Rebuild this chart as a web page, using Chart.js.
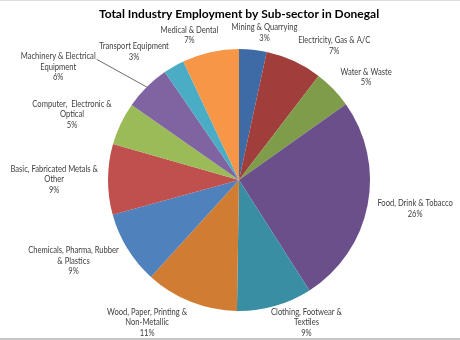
<!DOCTYPE html>
<html>
<head>
<meta charset="utf-8">
<script src="https://cdn.jsdelivr.net/npm/chart.js@4"></script>
<style>
  html, body { margin: 0; padding: 0; background: #fff; }
  #wrap { width: 460px; height: 340px; }
</style>
</head>
<body>
<div id="wrap"><canvas id="chart" width="460" height="340"></canvas></div>
<script>
const chartTitle = "Total Industry Employment by Sub-sector in Donegal";

// sub-sectors, clockwise from 12 o'clock (multi-line labels as in the original)
const categories = [
  ["Mining & Quarrying"],
  ["Electricity, Gas & A/C"],
  ["Water & Waste"],
  ["Food, Drink & Tobacco"],
  ["Clothing, Footwear &", "Textiles"],
  ["Wood, Paper, Printing &", "Non-Metallic"],
  ["Chemicals, Pharma, Rubber", "& Plastics"],
  ["Basic, Fabricated Metals &", "Other"],
  ["Computer,  Electronic &", "Optical"],
  ["Machinery & Electrical", "Equipment"],
  ["Transport Equipment"],
  ["Medical & Dental"]
];

// share of employment (%)
const shares = [3.4, 7.0, 4.8, 25.8, 9.3, 11.5, 9.0, 8.7, 5.3, 5.7, 2.6, 7.0];

const sliceColors = [
  "#3e6ba5", "#a03e3c", "#7e9c49", "#6a4f8b", "#3a8ea3", "#d07d33",
  "#4f81bd", "#c0504d", "#9bbb59", "#8064a2", "#4bacc6", "#f79646"
];

const labelFont = "9.5px Lato";
const squeeze = 0.8;   // Lato drawn narrower to stand in for Calibri
const lineH = 10.5;
// the one label Excel pulled away from its slice (drawn with a leader line)
const movedLabels = { 9: { dx: -44, dy: -4 } };

// outside-end data labels, roughly the way Excel places them
const labelPlugin = {
  id: "pieLabels",
  afterDraw(chart) {
    const ctx = chart.ctx;
    const W = chart.width, H = chart.height;
    ctx.save();

    // frame lines of the original picture
    ctx.fillStyle = "#dcdcdc";
    ctx.fillRect(0, 0, W, 1);
    ctx.fillStyle = "#c6c6c6";
    ctx.fillRect(0, H - 2, W, 2);

    // title
    ctx.fillStyle = "#000";
    ctx.font = "bold 12px Lato";
    ctx.textAlign = "center";
    ctx.textBaseline = "middle";
    ctx.fillText(chartTitle, 239, 14);

    const meta = chart.getDatasetMeta(0);
    const total = shares.reduce((a, b) => a + b, 0);
    ctx.font = labelFont;
    meta.data.forEach((arc, i) => {
      const mid = (arc.startAngle + arc.endAngle) / 2;
      const cos = Math.cos(mid), sin = Math.sin(mid);
      const lines = categories[i].concat([Math.round(shares[i] / total * 100) + "%"]);
      const w = Math.max(...lines.map(l => ctx.measureText(l).width)) * squeeze;
      const h = lines.length * lineH;
      const px = arc.x + (arc.outerRadius + 10) * cos;
      const py = arc.y + (arc.outerRadius + 7) * sin;
      let cx = px + (w / 2) * Math.max(-1, Math.min(1, cos * 3));
      let cy = py + (h / 2) * sin;
      cy = Math.max(h / 2 + 2, Math.min(H - 2 - h / 2, cy));
      cx = Math.max(w / 2 + 3, Math.min(W - 3 - w / 2, cx));

      const mv = movedLabels[i];
      if (mv) {
        cx += mv.dx; cy += mv.dy;
        const firstW = ctx.measureText(lines[0]).width * squeeze;
        const sx = mv.dx < 0 ? cx + firstW / 2 + 1 : cx - firstW / 2 - 1;
        const sy = cy - h / 2 + lineH / 2 + 3;
        const ex = arc.x + arc.outerRadius * cos;
        const ey = arc.y + arc.outerRadius * sin;
        ctx.strokeStyle = "#6b6b6b";
        ctx.lineWidth = 1;
        ctx.beginPath();
        ctx.moveTo(sx, sy);
        ctx.lineTo(ex, ey);
        ctx.stroke();
      }

      ctx.fillStyle = "#404040";
      ctx.textAlign = "center";
      ctx.textBaseline = "middle";
      lines.forEach((l, k) => {
        ctx.save();
        ctx.translate(cx, cy - h / 2 + lineH * (k + 0.5));
        ctx.scale(squeeze, 1);
        ctx.fillText(l, 0, 0);
        ctx.restore();
      });
    });
    ctx.restore();
  }
};

new Chart(document.getElementById("chart"), {
  type: "pie",
  data: {
    labels: categories,
    datasets: [{
      data: shares,
      backgroundColor: sliceColors,
      borderWidth: 0
    }]
  },
  options: {
    responsive: false,
    animation: false,
    layout: { padding: { top: 49, bottom: 29, left: 108, right: 90 } },
    plugins: {
      legend: { display: false },
      tooltip: { enabled: false },
      title: { display: false }
    }
  },
  plugins: [labelPlugin]
});
</script>
</body>
</html>
